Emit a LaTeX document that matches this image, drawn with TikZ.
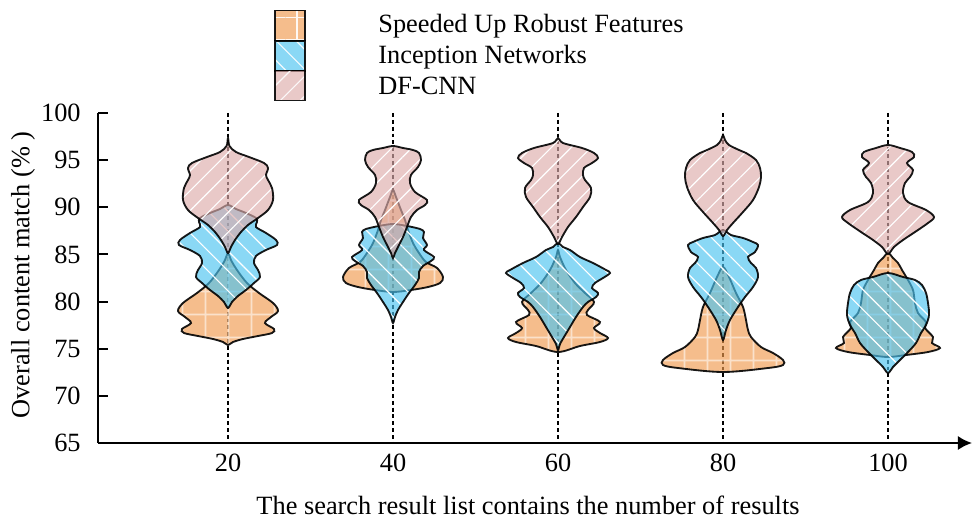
\documentclass[tikz,border=0pt]{standalone}
\usepackage{fontspec}
\setmainfont{Liberation Serif}
\usetikzlibrary{arrows.meta, patterns.meta}

\definecolor{surfc}{HTML}{F09A4E}
\definecolor{incc}{HTML}{4BC3F0}
\definecolor{dfc}{HTML}{DDACAB}

\tikzset{
  surfv/.style={preaction={fill=surfc, fill opacity=.65}, preaction={pattern={Hatch[angle=0,distance=13pt,line width=1pt]}, pattern color=white, fill opacity=.55}, draw=black, draw opacity=.9, line width=1.05pt},
  incv/.style={preaction={fill=incc, fill opacity=.65}, preaction={pattern={Lines[angle=-45,distance=8pt,line width=.65pt]}, pattern color=white, fill opacity=.5}, draw=black, draw opacity=.9, line width=1.05pt},
  dfv/.style={preaction={fill=dfc, fill opacity=.65}, preaction={pattern={Lines[angle=45,distance=8pt,line width=.65pt]}, pattern color=white, fill opacity=.5}, draw=black, draw opacity=.9, line width=1.05pt},
  lab/.style={font=\fontsize{15}{18}\selectfont, inner sep=0pt},
  legbox/.style={line width=1.1pt, minimum size=.6cm, inner sep=0pt},
}

% #1 centre x, #2 style, #3 top, #4 bottom, #5 y/halfwidth pairs
\newcommand{\violin}[5]{%
  \gdef\vR{(0,#3)}\gdef\vL{}%
  \foreach \y/\w in {#5}{\xdef\vR{\vR(\w,\y)}\xdef\vL{(-\w,\y)\vL}}%
  \begin{scope}[shift={(#1,0)}]
    \edef\vdo{\noexpand\path[#2] plot[smooth cycle,tension=.55] coordinates {\vR(0,#4)\vL};}\vdo
  \end{scope}}

\begin{document}
\begin{tikzpicture}[x=.02cm, y=-.02cm, >={Latex[length=8pt,width=8pt]}]
\useasboundingbox (0,0) rectangle (972,520);
\coordinate (O) at (98,443);
\coordinate (T) at (98,113);
\coordinate (E) at (972,443);
\foreach \g/\x in {20/228,40/393,60/558,80/723,100/888}{
  \draw[line width=.7pt, dash pattern=on 2.2pt off 1.7pt] (\x,113) -- (\x,443);
  \node[lab] (x\g) at (\x,463) {\g};
}
% SURF, Inception, DF-CNN for each group
\violin{228}{surfv}{253}{345}{260/3,270/9,283/19,293/31,303/45,311/50,317/43,323/37,329/46,333/44,336/30,339/15,342/5}
\violin{228}{incv}{205}{308}{209/8,213/18,218/28,222/29,227/28,233/38,240/48,245/49,250/38,256/28,263/26,270/30,277/32,283/26,290/18,296/10,302/4}
\violin{228}{dfv}{138}{253}{146/1.5,152/8,157/21,163/36,168/40,175/38,180/40,188/44,200/45,210/40,218/30,225/20,232/13,240/7,247/3}
\violin{393}{surfv}{190}{292}{197/3,210/8,220/12,230/15,243/20,253/26,262/33,268/44,277/50,283/47,287/35,290/18}
\violin{393}{incv}{224}{323}{226/14,229/27,232/31,238/30,245/34,250/31,257/41,261/38,266/30,272/26,278/26,285/22,293/16,302/10,310/5,317/2}
\violin{393}{dfv}{146}{258}{148/10,150/20,153/26,160/28,167/25,175/18,183/17,192/22,200/34,205/32,210/24,217/18,227/14,237/10,247/5,253/2}
\violin{558}{surfv}{250}{352}{257/2,270/8,283/17,293/27,302/36,310/30,315/29,322/42,328/36,333/42,338/50,342/42,346/22}
\violin{558}{incv}{243}{350}{247/5,250/12,257/22,263/35,270/48,273/52,278/45,283/37,288/34,293/40,297/38,302/30,307/25,317/18,327/12,337/6,344/2}
\violin{558}{dfv}{138}{244}{143/5,148/24,153/36,158/40,163/34,168/26,175/25,180/27,188/33,197/32,207/25,217/18,227/10,237/4}
\violin{723}{surfv}{267}{372}{277/6,293/13,307/20,320/23,330/25,337/28,347/38,353/50,360/60,365/60,368/45}
\violin{723}{incv}{230}{340}{235/8,238/20,242/30,245/35,252/32,257/25,263/28,268/33,277/35,287/30,297/22,307/15,320/7,330/3}
\violin{723}{dfv}{135}{236}{140/2,145/6,150/16,153/23,160/33,168/37,177/38,187/36,200/30,212/20,223/10,230/4}
\violin{888}{surfv}{253}{357}{258/5,263/10,270/14,280/20,290/25,303/27,313/30,322/38,328/37,337/45,343/44,348/52,352/40,355/18}
\violin{888}{incv}{273}{373}{277/15,280/27,285/34,293/38,303/40,315/41,325/38,333/33,343/28,352/20,360/12,367/5}
\violin{888}{dfv}{145}{254}{148/12,152/24,157/26,163/19,170/25,177/22,183/17,193/15,202/20,210/38,217/46,223/40,232/27,240/15,247/6}
% axes
\draw[line width=1.1pt] (T) -- (O);
\draw[line width=1.1pt, ->] (O) -- (E);
\foreach \v in {70,75,...,100} \draw[line width=1.1pt] (98,{113+(100-\v)*9.43}) -- ++(10,0);
\foreach \v in {65,70,...,100} \node[lab, anchor=east] (y\v) at (81,{113+(100-\v)*9.43}) {\v};
\node[lab] (xlab) at (528,505) {The search result list contains the number of results};
\node[lab, rotate=90] (ylab) at (23,275) {Overall content match (\% )};
% legend
\node[legbox, surfv] (ls) at (290,25.5) {};
\node[legbox, incv] (li) at (290,56) {};
\node[legbox, dfv] (ld) at (290,85.5) {};
\node[lab, anchor=base west] (ts) at (378,33) {Speeded Up Robust Features};
\node[lab, anchor=base west] (ti) at (378,64) {Inception Networks};
\node[lab, anchor=base west] (td) at (378,95) {DF-CNN};
\end{tikzpicture}
\end{document}
